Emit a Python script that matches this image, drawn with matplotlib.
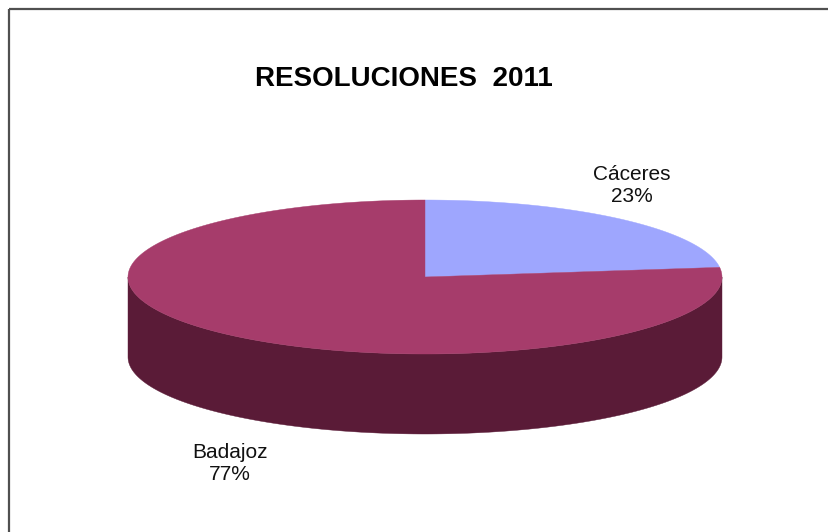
import numpy as np
import matplotlib
matplotlib.use("Agg")
import matplotlib.pyplot as plt
from matplotlib.patches import Polygon

plt.rcParams['font.family'] = ['Liberation Sans', 'DejaVu Sans']

# ---- data ----
categories = ['Cáceres', 'Badajoz']
values = [23, 77]
title = 'RESOLUCIONES  2011'

# ---- style / layout ----
top_colors = ['#9ea6fe', '#a63c6b']
side_colors = ['#6a6fb0', '#5a1b37']
W, H = 829, 532
cx, cy, rx, ry, depth = 425, 277, 297, 77, 80
label_pos = {'Cáceres': (632, 186), 'Badajoz': (230, 463)}

fig = plt.figure(figsize=(W / 100, H / 100), dpi=100)
ax = fig.add_axes([0, 0, 1, 1])
ax.set_xlim(0, W)
ax.set_ylim(H, 0)
ax.axis('off')

def pt(t, dy=0.0):
    return cx + rx * np.cos(np.radians(t)), cy - ry * np.sin(np.radians(t)) + dy

total = float(sum(values))
# wedges: start at 90 deg, go clockwise
angles = []
start = 90.0
for v in values:
    sweep = 360.0 * v / total
    angles.append((start - sweep, start))
    start -= sweep

# side (front visible part: angles 180..360, modulo 360)
for (a0, a1), sc in zip(angles, side_colors):
    for shift in (-360, 0, 360):
        lo = max(a0 + shift, 180)
        hi = min(a1 + shift, 360)
        if hi > lo:
            t = np.linspace(lo, hi, 200)
            x, y = pt(t)
            xb, yb = pt(t[::-1], depth)
            poly = np.column_stack([np.concatenate([x, xb]), np.concatenate([y, yb])])
            ax.add_patch(Polygon(poly, closed=True, facecolor=sc, edgecolor=sc, lw=0.3))

# top
for (a0, a1), tc in zip(angles, top_colors):
    t = np.linspace(a0, a1, 400)
    x, y = pt(t)
    poly = np.column_stack([np.concatenate([[cx], x]), np.concatenate([[cy], y])])
    ax.add_patch(Polygon(poly, closed=True, facecolor=tc, edgecolor=tc, lw=0.3))

# labels
for c, v in zip(categories, values):
    lx, ly = label_pos[c]
    ax.text(lx, ly, f'{c}\n{round(100 * v / total)}%', ha='center', va='center',
            fontsize=15, linespacing=1.2, color='#111111')

ax.text(404, 79, title, ha='center', va='center', fontsize=20, fontweight='bold', color='black')

# frame (partially cropped)
ax.plot([9, 9], [H + 5, 9], color='#505050', lw=1.6, solid_capstyle='butt')
ax.plot([9, W + 5], [9, 9], color='#505050', lw=1.6, solid_capstyle='butt')

fig.savefig('out.png', dpi=100)
